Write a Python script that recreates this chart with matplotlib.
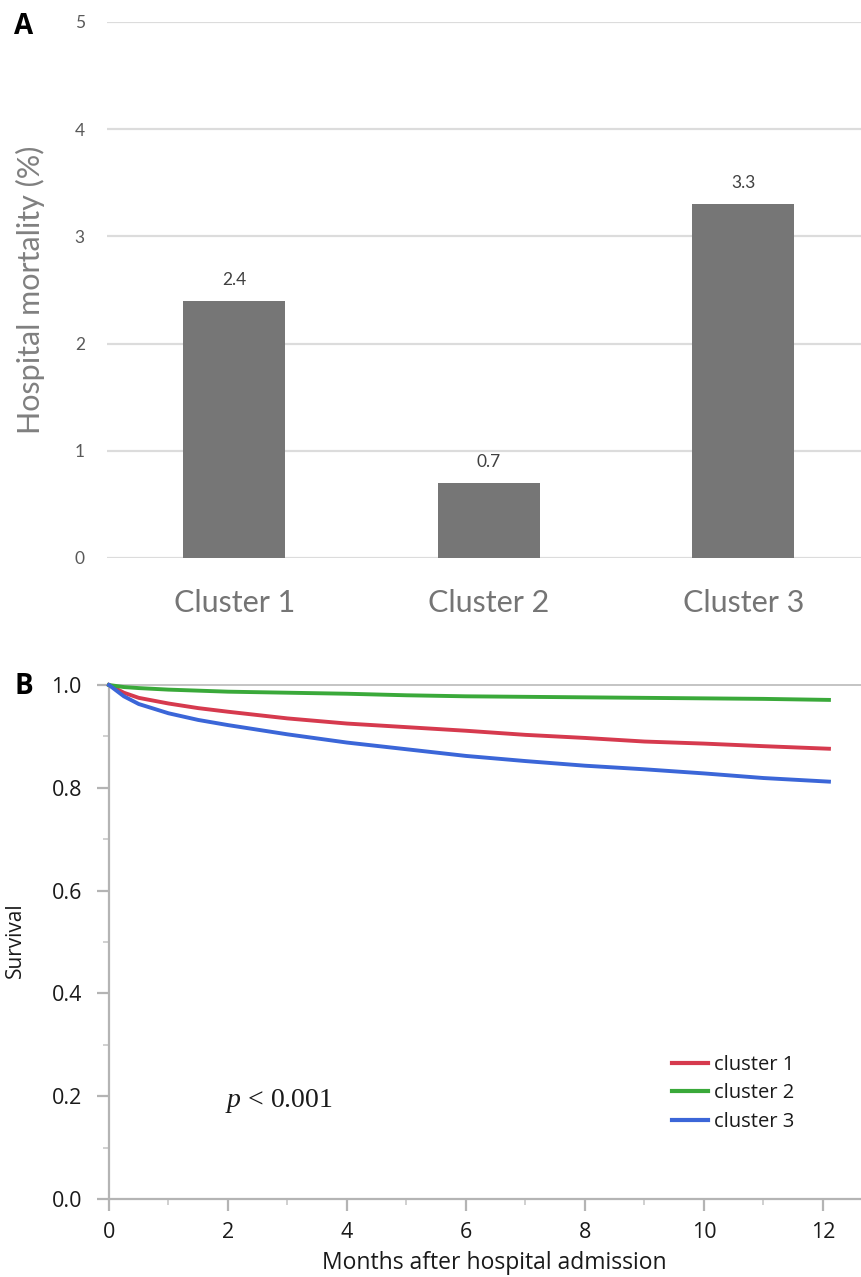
import matplotlib
matplotlib.use("Agg")
import matplotlib.pyplot as plt

# Panel A data
clusters = ["Cluster 1", "Cluster 2", "Cluster 3"]
mortality = [2.4, 0.7, 3.3]

# Panel B data
months = [0, 0.25, 0.5, 1, 1.5, 2, 3, 4, 5, 6, 7, 8, 9, 10, 11, 12.1]
surv_c1 = [1.0, 0.985, 0.975, 0.964, 0.955, 0.948, 0.935, 0.925, 0.918, 0.911, 0.903, 0.897, 0.890, 0.886, 0.881, 0.876]
surv_c2 = [1.0, 0.996, 0.994, 0.991, 0.989, 0.987, 0.985, 0.983, 0.980, 0.978, 0.977, 0.976, 0.975, 0.974, 0.973, 0.971]
surv_c3 = [1.0, 0.978, 0.963, 0.945, 0.932, 0.922, 0.904, 0.888, 0.875, 0.862, 0.852, 0.843, 0.836, 0.828, 0.819, 0.812]
legend_labels = ["cluster 1", "cluster 2", "cluster 3"]
line_colors = ["#d63a4e", "#3aa93a", "#3b66d8"]

plt.rcParams["mathtext.fontset"] = "custom"
plt.rcParams["mathtext.it"] = "Liberation Serif:italic"
plt.rcParams["mathtext.rm"] = "Liberation Serif"

fig = plt.figure(figsize=(8.62, 12.77), dpi=100)

# ---- Panel A: bar chart ----
ax1 = fig.add_axes([107 / 862, 1 - 558 / 1277, 755 / 862, 536 / 1277])
x = list(range(len(clusters)))
ax1.bar(x, mortality, width=0.4, color="#767676", zorder=3)
for xi, v in zip(x, mortality):
    ax1.annotate(f"{v}", (xi, v), xytext=(0, 15), textcoords="offset points",
                 ha="center", va="center", fontsize=12.5, color="#404040", family="Lato")
ax1.set_xlim(-0.5, 755 / 254.5 - 0.5)
ax1.set_ylim(0, 5)
ax1.set_yticks([0, 1, 2, 3, 4, 5])
ax1.yaxis.grid(True, color="#dcdcdc", linewidth=1.6, zorder=0)
ax1.set_axisbelow(True)
for s in ax1.spines.values():
    s.set_visible(False)
ax1.set_xticks(x)
ax1.set_xticklabels(clusters, fontsize=22, color="#757575", family="Lato")
ax1.tick_params(axis="x", length=0, pad=22)
ax1.tick_params(axis="y", length=0, pad=16, labelsize=12.5, labelcolor="#595959")
for lab in ax1.get_yticklabels():
    lab.set_family("Lato")
fig.text(30 / 862, 1 - 290 / 1277, "Hospital mortality (%)", rotation=90,
         ha="center", va="center", fontsize=22, color="#808080", family="Lato")
fig.text(24 / 862, 1 - 27 / 1277, "A", ha="center", va="center",
         fontsize=20, fontweight="bold", color="black", family="Open Sans")

# ---- Panel B: survival curves ----
ax2 = fig.add_axes([109 / 862, 1 - 1199 / 1277, 753 / 862, 514 / 1277])
for surv, lab, col in zip([surv_c1, surv_c2, surv_c3], legend_labels, line_colors):
    ax2.plot(months, surv, color=col, linewidth=2.8, label=lab, clip_on=False, zorder=3)
ax2.set_xlim(0, 753 / 59.5)
ax2.set_ylim(0, 1.0)
ax2.set_xticks([0, 2, 4, 6, 8, 10, 12])
ax2.set_xticks([1, 3, 5, 7, 9, 11], minor=True)
ax2.set_yticks([0.0, 0.2, 0.4, 0.6, 0.8, 1.0])
ax2.set_yticks([0.1, 0.3, 0.5, 0.7, 0.9], minor=True)
ax2.set_yticklabels(["0.0", "0.2", "0.4", "0.6", "0.8", "1.0"])
ax2.spines["right"].set_visible(False)
for side in ["left", "bottom"]:
    ax2.spines[side].set_color("#b4b4b4")
    ax2.spines[side].set_linewidth(1.6)
ax2.spines["top"].set_color("#b4b4b4")
ax2.spines["top"].set_linewidth(1.1)
ax2.tick_params(which="major", length=8.5, width=1.6, color="#b4b4b4",
                labelsize=15.5, labelcolor="#1a1a1a", pad=8)
ax2.tick_params(which="minor", length=4.5, width=1.2, color="#c8c8c8")
ax2.tick_params(axis="y", which="major", pad=11)
for lab in ax2.get_xticklabels() + ax2.get_yticklabels():
    lab.set_family("Open Sans")
fig.text(15 / 862, 1 - 940 / 1277, "Survival", rotation=90, ha="center", va="center",
         fontsize=15, color="#1a1a1a", family="Open Sans")
fig.text(494 / 862, 1 - 1263 / 1277, "Months after hospital admission", ha="center",
         va="center", fontsize=16.5, color="#1a1a1a", family="Open Sans")
fig.text(24 / 862, 1 - 686 / 1277, "B", ha="center", va="center",
         fontsize=20, fontweight="bold", color="black", family="Open Sans")
ax2.text(1.95, 0.179, r"$p$ < 0.001", fontsize=20, family="Liberation Serif",
         color="#1a1a1a", va="baseline", ha="left")
leg = ax2.legend(loc="upper left", bbox_to_anchor=((672 - 109) / 753, (1199 - 1055) / 513),
                 frameon=False, handlelength=1.8, handletextpad=0.3, labelspacing=0.42,
                 borderpad=0, borderaxespad=0, prop={"family": "Open Sans", "size": 14.5})
for line in leg.get_lines():
    line.set_linewidth(3.0)
for t in leg.get_texts():
    t.set_color("#1a1a1a")

fig.savefig("out.png", dpi=100)
